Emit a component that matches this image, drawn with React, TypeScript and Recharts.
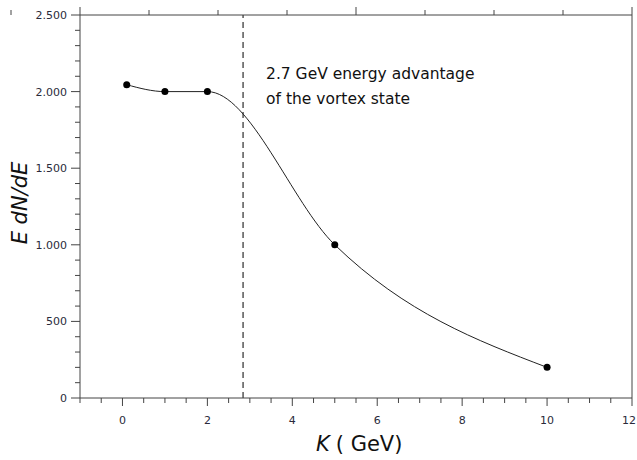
import React from "react";
import { ComposedChart, Line, XAxis, YAxis, ReferenceLine } from "recharts";

// measured points (K in GeV, E dN/dE)
const kValues = [0.1, 1, 2, 5, 10];
const yieldValues = [2045, 2000, 2000, 1000, 200];
const vortexK = 2.84;

const xTicks = Array.from({ length: 27 }, (_, i) => -1 + i * 0.5);
const yTicks = Array.from({ length: 26 }, (_, i) => i * 100);

const data = kValues.map((k, i) => ({ k, y: yieldValues[i] }));

const FONT = "'DejaVu Sans', Verdana, sans-serif";
const AXIS = "#444";
const LABEL = "#2a2a3a";

const fmtY = (v: number) =>
  v >= 1000 ? `${Math.floor(v / 1000)}.${String(v % 1000).padStart(3, "0")}` : String(v);

function BottomTick({ x, y, payload }: any) {
  const major = payload.value % 2 === 0 && payload.value >= 0;
  const last = payload.value === 12;
  return (
    <g>
      <line x1={x} x2={x} y1={y} y2={y + (major ? 8 : 5)} stroke={AXIS} />
      {major && (
        <text
          x={last ? Math.min(x + 7, 636) : x}
          y={y + 26}
          textAnchor={last ? "end" : "middle"}
          fontSize={11}
          fontFamily={FONT}
          fill={LABEL}
        >
          {payload.value}
        </text>
      )}
    </g>
  );
}

function TopTick({ x, y, payload }: any) {
  const major = payload.value % 2 === 0 && payload.value >= 0;
  return <line x1={x} x2={x} y1={y} y2={y - (major ? 8 : 5)} stroke={AXIS} />;
}

function LeftTick({ x, y, payload }: any) {
  const major = payload.value % 500 === 0;
  return (
    <g>
      <line x1={x} x2={x - (major ? 9 : 5)} y1={y} y2={y} stroke={AXIS} />
      {major && (
        <text x={x - 13} y={y + 4} textAnchor="end" fontSize={11} fontFamily={FONT} fill={LABEL}>
          {fmtY(payload.value)}
        </text>
      )}
    </g>
  );
}

function RightTick({ x, y, payload }: any) {
  const major = payload.value % 500 === 0;
  return <line x1={x} x2={x + (major ? 8 : 5)} y1={y} y2={y} stroke={AXIS} />;
}

export default function App() {
  return (
    <div style={{ position: "absolute", left: 0, top: 0, background: "#fff" }}>
      <ComposedChart width={637} height={460} data={data} margin={{ top: 0, right: 0, bottom: 0, left: 0 }}>
        <XAxis
          dataKey="k"
          type="number"
          domain={[-1, 12]}
          ticks={xTicks}
          interval={0}
          tickSize={0}
          tickMargin={0}
          tick={BottomTick}
          stroke={AXIS}
          height={62}
          allowDataOverflow
          label={{
            content: () => (
              <text x={316} y={451} fontSize={21} fontFamily={FONT} fill="#111">
                <tspan fontStyle="italic">K</tspan>
                <tspan dx={6}>{"( GeV)"}</tspan>
              </text>
            ),
          }}
        />
        <XAxis
          xAxisId="top"
          orientation="top"
          type="number"
          domain={[-1, 12]}
          ticks={xTicks}
          interval={0}
          tickSize={0}
          tickMargin={0}
          tick={TopTick}
          stroke={AXIS}
          height={15}
        />
        <YAxis
          type="number"
          domain={[0, 2500]}
          ticks={yTicks}
          interval={0}
          tickSize={0}
          tickMargin={0}
          tick={LeftTick}
          stroke={AXIS}
          width={80}
          label={{
            content: () => (
              <text
                x={27}
                y={203}
                transform="rotate(-90 27 203)"
                textAnchor="middle"
                fontSize={21}
                fontStyle="italic"
                fontFamily={FONT}
                fill="#111"
              >
                E dN/dE
              </text>
            ),
          }}
        />
        <YAxis
          yAxisId="right"
          orientation="right"
          type="number"
          domain={[0, 2500]}
          ticks={yTicks}
          interval={0}
          tickSize={0}
          tickMargin={0}
          tick={RightTick}
          stroke={AXIS}
          width={5}
        />
        <ReferenceLine
          x={vortexK}
          stroke="#000"
          strokeDasharray="6 4"
          label={{
            content: ({ viewBox }: any) => (
              <text fontSize={15.5} fontFamily={FONT} fill="#111">
                <tspan x={viewBox.x + 23} y={79}>2.7 GeV energy advantage</tspan>
                <tspan x={viewBox.x + 23} y={104}>of the vortex state</tspan>
              </text>
            ),
          }}
        />
        <Line
          type="monotoneX"
          dataKey="y"
          stroke="#222"
          strokeWidth={1}
          dot={{ r: 3.5, fill: "#000", stroke: "#000", strokeWidth: 0 }}
          isAnimationActive={false}
        />
      </ComposedChart>
    </div>
  );
}
